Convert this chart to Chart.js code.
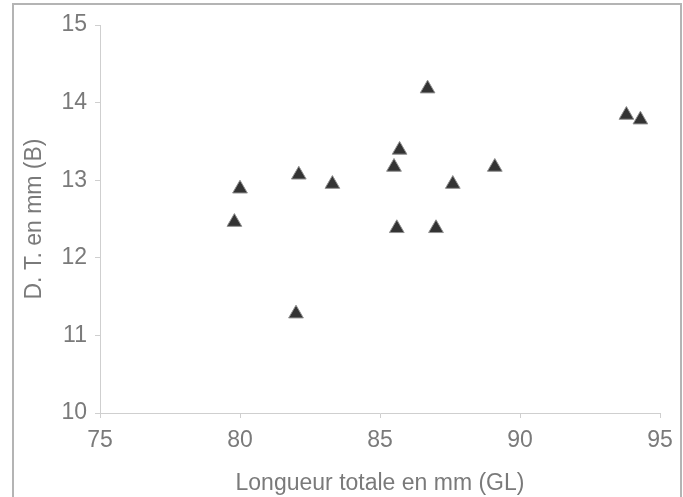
<!DOCTYPE html>
<html>
<head>
<meta charset="utf-8">
<script src="https://cdn.jsdelivr.net/npm/chart.js@4/dist/chart.umd.min.js"></script>
<style>
  html, body { margin: 0; padding: 0; background: #fff; }
  #wrap { width: 683px; height: 497px; position: relative; }
</style>
</head>
<body>
<div id="wrap"><canvas id="dtChart"></canvas></div>
<script>
// Longueur totale (GL) en mm
const longueur = [79.8, 80.0, 82.1, 82.0, 83.3, 85.5, 85.7, 85.6, 86.7, 87.6, 87.0, 89.1, 93.8, 94.3];
// D. T. (B) en mm
const diametre = [12.46, 12.89, 13.07, 11.28, 12.95, 13.17, 13.39, 12.38, 14.18, 12.95, 12.38, 13.17, 13.84, 13.78];

const xTitle = 'Longueur totale en mm (GL)';
const yTitle = 'D. T. en mm (B)';

const points = longueur.map((x, i) => ({ x: x, y: diametre[i] }));

// grey frame around the whole figure
const framePlugin = {
    id: 'frame',
    beforeDraw(chart) {
        const c = chart.ctx;
        c.save();
        c.strokeStyle = '#b4b4b4';
        c.lineWidth = 2;
        c.strokeRect(13, 4, 668, 520);
        c.restore();
    }
};

const labelFont = { family: 'Liberation Sans', size: 23 };
const labelColor = '#7a7a7a';

const ctx = document.getElementById('dtChart').getContext('2d');
const chart = new Chart(ctx, {
    type: 'scatter',
    data: {
        datasets: [{
            label: '',
            data: points,
            pointStyle: 'triangle',
            pointRadius: 8.5,
            pointHoverRadius: 8.5,
            backgroundColor: '#333333',
            borderColor: '#909090',
            borderWidth: 1
        }]
    },
    options: {
        responsive: true,
        maintainAspectRatio: false,
        animation: false,
        layout: {
            padding: { left: 14, right: 23, top: 25, bottom: 0 }
        },
        plugins: {
            legend: { display: false },
            tooltip: { enabled: false }
        },
        scales: {
            x: {
                type: 'linear',
                min: 75,
                max: 95,
                afterFit(scale) { scale.height = 84; },
                border: { color: '#cfcfcf', width: 1 },
                grid: {
                    drawOnChartArea: false,
                    tickLength: 5,
                    color: '#cfcfcf'
                },
                ticks: {
                    stepSize: 5,
                    padding: 9,
                    color: labelColor,
                    font: labelFont
                },
                title: {
                    display: true,
                    text: xTitle,
                    color: labelColor,
                    padding: { top: 0, bottom: 0 },
                    font: labelFont
                }
            },
            y: {
                min: 10,
                max: 15,
                afterFit(scale) { scale.width = 86; },
                border: { color: '#cfcfcf', width: 1 },
                grid: {
                    drawOnChartArea: false,
                    tickLength: 5,
                    color: '#cfcfcf'
                },
                ticks: {
                    stepSize: 1,
                    padding: 8,
                    color: labelColor,
                    font: labelFont
                },
                title: {
                    display: true,
                    text: yTitle,
                    color: labelColor,
                    padding: { top: 7, bottom: 0 },
                    font: labelFont
                }
            }
        }
    },
    plugins: [framePlugin]
});
</script>
</body>
</html>
